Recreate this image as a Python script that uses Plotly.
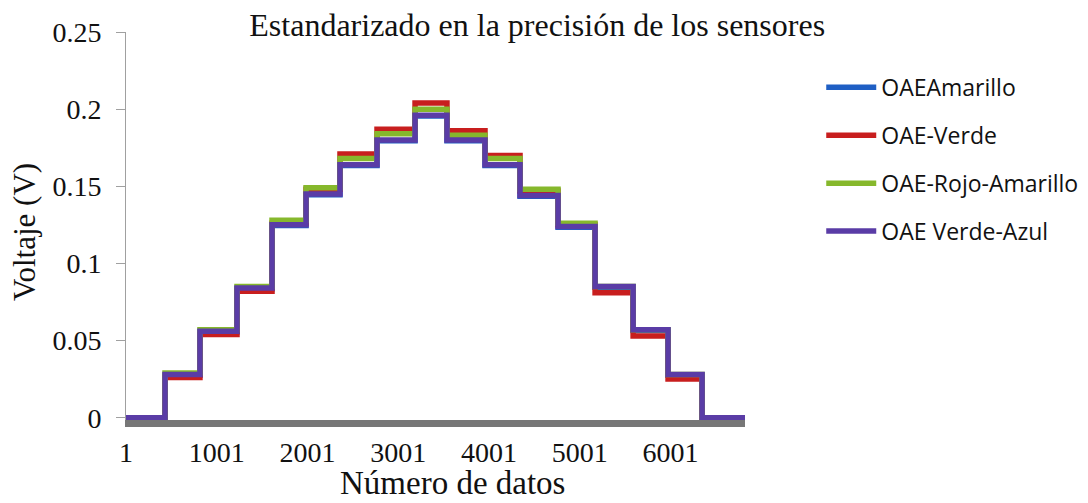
import plotly.graph_objects as go

# ---- data ----
series_names = ["OAEAmarillo", "OAE-Verde", "OAE-Rojo-Amarillo", "OAE Verde-Azul"]
series_colors = ["#1f5fc4", "#c81e1e", "#86b82c", "#5a3ca6"]

# sample index where each segment starts (first zero segment, 15 steps, final zero segment)
step_starts = [1, 431, 816, 1224, 1610, 1985, 2359, 2767, 3186, 3538, 3957, 4343, 4762, 5170, 5589, 5974, 6349]
last_sample = 6822

# voltage of each segment (V)
oae_amarillo = [0, 0.0275, 0.0555, 0.0835, 0.1245, 0.1445, 0.1635, 0.1795, 0.1955, 0.1795, 0.1635, 0.1435, 0.1235, 0.0845, 0.0565, 0.0275, 0]
oae_verde = [0, 0.026, 0.054, 0.082, 0.126, 0.148, 0.171, 0.187, 0.204, 0.186, 0.170, 0.147, 0.125, 0.081, 0.053, 0.025, 0]
oae_rojo_amarillo = [0, 0.029, 0.057, 0.085, 0.128, 0.149, 0.168, 0.184, 0.200, 0.183, 0.168, 0.148, 0.126, 0.085, 0.057, 0.028, 0]
oae_verde_azul = [0, 0.028, 0.056, 0.084, 0.125, 0.145, 0.164, 0.180, 0.196, 0.180, 0.164, 0.144, 0.124, 0.085, 0.057, 0.028, 0]

x_tick_vals = [1, 1001, 2001, 3001, 4001, 5001, 6001]
y_tick_vals = [0, 0.05, 0.1, 0.15, 0.2, 0.25]
y_tick_text = ["0", "0.05", "0.1", "0.15", "0.2", "0.25"]

series_values = [oae_amarillo, oae_verde, oae_rojo_amarillo, oae_verde_azul]

fig = go.Figure()
xs = step_starts + [last_sample]
for name, color, vals in zip(series_names, series_colors, series_values):
    ys = vals + [vals[-1]]
    fig.add_trace(go.Scatter(
        x=xs, y=ys, mode="lines", name=name, legendgroup=name,
        line=dict(color=color, width=5.5, shape="hv"),
    ))

serif = "Liberation Serif, Times New Roman, serif"

fig.update_layout(
    width=1080, height=495,
    margin=dict(l=118, r=343, t=24, b=83, autoexpand=False),
    paper_bgcolor="white", plot_bgcolor="white",
    showlegend=True,
    title=dict(text="Estandarizado en la precisión de los sensores",
               x=0.49, xanchor="center", xref="container",
               y=0.966, yanchor="middle", yref="container",
               font=dict(family=serif, size=32, color="#111")),
    legend=dict(x=0.753, xanchor="left", xref="container",
                y=0.883, yanchor="top", yref="container",
                font=dict(family="Open Sans, Lato, sans-serif", size=23, color="#111"),
                traceorder="grouped", tracegroupgap=15, itemwidth=50,
                bgcolor="rgba(0,0,0,0)"),
    xaxis=dict(range=[1, last_sample], tickmode="array", tickvals=x_tick_vals,
               showgrid=False, zeroline=False, showline=True, linecolor="#777777", linewidth=7,
               ticks="", tickfont=dict(family=serif, size=28, color="#111"),
               ticklabelstandoff=1),
    yaxis=dict(range=[-0.0015, 0.25], tickmode="array", tickvals=y_tick_vals, ticktext=y_tick_text,
               showgrid=False, zeroline=False, showline=True, linecolor="#a0a0a0", linewidth=1,
               ticks="outside", ticklen=9, tickcolor="#a0a0a0",
               tickfont=dict(family=serif, size=28, color="#111"),
               ticklabelstandoff=9),
    annotations=[
        dict(text="Número de datos", xref="paper", yref="paper", x=0.527, y=-0.162,
             xanchor="center", yanchor="middle", showarrow=False,
             font=dict(family=serif, size=33, color="#111")),
        dict(text="Voltaje (V)", xref="paper", yref="paper", x=-0.163, y=0.485,
             xanchor="center", yanchor="middle", showarrow=False, textangle=-90,
             font=dict(family=serif, size=31, color="#111")),
    ],
)

fig.write_html("out.html")
